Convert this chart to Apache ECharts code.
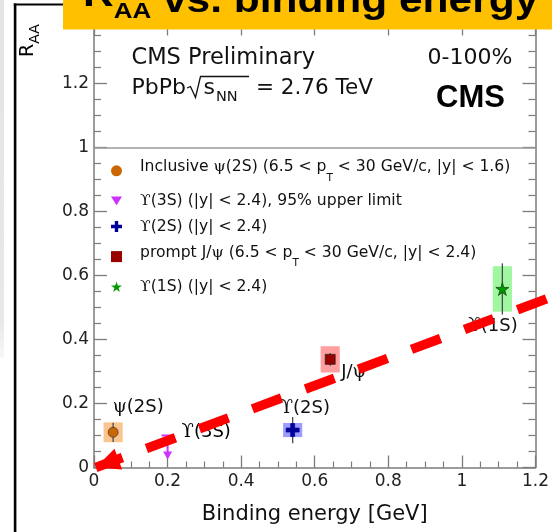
<!DOCTYPE html>
<html><head><meta charset="utf-8">
<script src="https://cdn.jsdelivr.net/npm/echarts@6/dist/echarts.min.js"></script>
<style>html,body{margin:0;padding:0;background:#fff}#c{width:552px;height:532px}</style>
</head><body><div id="c"></div>
<script>
// ---------------- data ----------------
const xTickLabels = ['0', '0.2', '0.4', '0.6', '0.8', '1', '1.2'];
const yTickLabels = ['0', '0.2', '0.4', '0.6', '0.8', '1', '1.2'];
const states = ['ψ(2S)', 'ϒ(3S)', 'ϒ(2S)', 'J/ψ', 'ϒ(1S)'];
const bindingEnergy = [0.052, 0.20, 0.54, 0.642, 1.11];   // GeV
const raa = [0.110, 0.100, 0.117, 0.338, 0.558];           // ϒ(3S): 95% upper limit
const statErr = [0.030, 0, 0.041, 0.020, 0.080];
const systErr = [0.031, 0, 0.022, 0.041, 0.071];
const isUpperLimit = [false, true, false, false, false];
const pointLabels = ['ψ(2S)', 'ϒ(3S)', 'ϒ(2S)', 'J/ψ', 'ϒ(1S)'];
const legendLabels = [
  'Inclusive ψ(2S) (6.5 < p_{T} < 30 GeV/c, |y| < 1.6)',
  'ϒ(3S) (|y| < 2.4), 95% upper limit',
  'ϒ(2S) (|y| < 2.4)',
  'prompt J/ψ (6.5 < p_{T} < 30 GeV/c, |y| < 2.4)',
  'ϒ(1S) (|y| < 2.4)'
];
const referenceLine = 1;
const arrowFrom = [1.26, 0.54];   // red slide arrow, data coords
const arrowTo = [0.005, 0.0];

// ---------------- style ----------------
const SANS = 'DejaVu Sans', SERIF = 'DejaVu Serif, DejaVu Sans';
const INK = '#111', AX = '#7c7c7c';
const BOX_HALF = 0.026;
const STAR = 'path://M50,0L61,35L98,35L68,57L79,91L50,70L21,91L32,57L2,35L39,35Z';
const CROSS = 'path://M4.5,0H8.5V4.5H13V8.5H8.5V13H4.5V8.5H0V4.5H4.5Z';
const TRI_DOWN = 'path://M0,0L10,0L5,8Z';
const markerSymbols = ['circle', TRI_DOWN, CROSS, 'rect', STAR];
const markerSizes = [10, 10, 13, 10, 13];
const markerColors = ['#cc6600', '#cc33ff', '#000099', '#990000', '#009900'];
const markerBorders = ['#333', '#cc33ff', '#000099', '#222', '#0a3a0a'];
const boxColors = ['#fbc590', null, '#9c9cff', '#ff9f9f', '#9ff79f'];
const labelOffsets = [[-0.5, -24.7], [14, -3.5], [-12, -22], [11, 12.7], [-34, 37.7]];

function toRich(s, base, greek, sub) {
  let r = s.replace(/_\{([^}]*)\}/g, (m, a) => `}{${sub}|${a}}{${base}|`);
  r = r.replace(/[ψϒ]/g, m => `}{${greek}|${m}}{${base}|`);
  return `{${base}|${r}}`;
}

const pointRich = {
  p: { fontFamily: SANS, fontSize: 18, color: INK, lineHeight: 22 },
  pg: { fontFamily: SERIF, fontSize: 18, color: INK, lineHeight: 22 }
};
const LF = 15.6;
const legendRich = {
  sp: { width: 13 },
  t: { fontFamily: SANS, fontSize: LF, color: INK, lineHeight: 20 },
  g: { fontFamily: SERIF, fontSize: LF, color: INK, lineHeight: 20 },
  tu: { fontFamily: SANS, fontSize: LF, color: INK, lineHeight: 20, padding: [0, 0, 8, 0] },
  gu: { fontFamily: SERIF, fontSize: LF, color: INK, lineHeight: 20, padding: [0, 0, 8, 0] },
  s: { fontFamily: SANS, fontSize: 10.5, color: INK, lineHeight: 20, padding: [14, 0, 0, 0] }
};

const chart = echarts.init(document.getElementById('c'), null, { renderer: 'canvas', width: 552, height: 532 });

const series = [];
states.forEach((name, i) => {
  if (isUpperLimit[i]) return;
  series.push({
    type: 'scatter', name, z: 4,
    symbol: markerSymbols[i], symbolSize: markerSizes[i],
    itemStyle: { color: markerColors[i], borderColor: markerBorders[i], borderWidth: 0.7, opacity: 1 },
    label: {
      show: true, position: 'inside', offset: labelOffsets[i], align: 'left', verticalAlign: 'middle',
      formatter: toRich(pointLabels[i], 'p', 'pg', 'p'), rich: pointRich
    },
    emphasis: { disabled: true },
    data: [[bindingEnergy[i], raa[i]]],
    markLine: i === 0 ? {
      silent: true, symbol: 'none', label: { show: false }, animation: false,
      lineStyle: { color: '#9a9a9a', type: 'solid', width: 1.5 },
      data: [{ yAxis: referenceLine }]
    } : undefined
  });
});

// systematic boxes + statistical error bars
series.push({
  type: 'custom', name: 'syst', z: 2, silent: true,
  data: states.map((s, i) => i).filter(i => !isUpperLimit[i])
    .map(i => [bindingEnergy[i], raa[i], statErr[i], systErr[i], i]),
  renderItem(params, api) {
    const x = api.value(0), y = api.value(1), st = api.value(2), sy = api.value(3), k = api.value(4);
    const tl = api.coord([x - BOX_HALF, y + sy]), br = api.coord([x + BOX_HALF, y - sy]);
    const et = api.coord([x, y + st]), eb = api.coord([x, y - st]);
    return { type: 'group', children: [
      { type: 'rect', z2: 1, shape: { x: tl[0], y: tl[1], width: br[0] - tl[0], height: br[1] - tl[1] }, style: { fill: boxColors[k] } },
      { type: 'line', z2: 2, shape: { x1: et[0], y1: et[1], x2: eb[0], y2: eb[1] }, style: { stroke: '#4a4a4a', lineWidth: 1.3 } }
    ] };
  }
});

// upper limit arrow
states.forEach((name, i) => {
  if (!isUpperLimit[i]) return;
  series.push({
    type: 'custom', name, z: 3, silent: true,
    itemStyle: { color: markerColors[i] },
    data: [[bindingEnergy[i], raa[i], i]],
    renderItem(params, api) {
      const p = api.coord([api.value(0), api.value(1)]);
      const c = markerColors[i];
      return { type: 'group', children: [
        { type: 'line', shape: { x1: p[0] - 6, y1: p[1], x2: p[0] + 6, y2: p[1] }, style: { stroke: c, lineWidth: 2 } },
        { type: 'line', shape: { x1: p[0], y1: p[1], x2: p[0], y2: p[1] + 18 }, style: { stroke: c, lineWidth: 2 } },
        { type: 'polygon', shape: { points: [[p[0] - 4.5, p[1] + 16], [p[0] + 4.5, p[1] + 16], [p[0], p[1] + 24]] }, style: { fill: c } },
        { type: 'text', x: p[0] + labelOffsets[i][0], y: p[1] + labelOffsets[i][1],
          style: { text: toRich(pointLabels[i], 'p', 'pg', 'p'), rich: pointRich, align: 'left', verticalAlign: 'middle' } }
      ] };
    }
  });
});

const axisCommon = {
  type: 'value', splitLine: { show: false },
  axisLine: { show: true, onZero: false, lineStyle: { color: AX, width: 1.5 } },
};

chart.setOption({
  animation: false,
  backgroundColor: '#ffffff',
  grid: { left: 94, right: 14, top: 19.5, bottom: 64.5, containLabel: false },
  xAxis: [
    Object.assign({}, axisCommon, {
      position: 'bottom', min: 0, max: 1.2, interval: 0.2,
      axisTick: { inside: true, length: 12, lineStyle: { color: AX, width: 1.3 } },
      minorTick: { show: true, splitNumber: 4, length: 6, lineStyle: { color: AX, width: 1.2 } },
      axisLabel: { margin: 6, fontFamily: SANS, fontSize: 17, color: '#222',
        formatter: v => xTickLabels[Math.round(v / 0.2)] || '' },
      name: 'Binding energy [GeV]', nameLocation: 'middle', nameGap: 37,
      nameTextStyle: { fontFamily: SANS, fontSize: 21, color: INK }
    }),
    Object.assign({}, axisCommon, {
      position: 'top', min: 0, max: 1.2, interval: 0.2,
      axisTick: { inside: true, length: 16, lineStyle: { color: AX, width: 1.3 } },
      axisLabel: { show: false }
    })
  ],
  yAxis: [
    Object.assign({}, axisCommon, {
      position: 'left', min: 0, max: 1.4, interval: 0.2,
      axisTick: { inside: true, length: 13, lineStyle: { color: AX, width: 1.3 } },
      minorTick: { show: true, splitNumber: 4, length: 7, lineStyle: { color: AX, width: 1.2 } },
      axisLabel: { margin: 5, fontFamily: SANS, fontSize: 17, color: '#222', showMaxLabel: false,
        formatter: v => yTickLabels[Math.round(v / 0.2)] || '' }
    }),
    Object.assign({}, axisCommon, {
      position: 'right', min: 0, max: 1.4, interval: 0.2,
      axisTick: { inside: true, length: 13, lineStyle: { color: AX, width: 1.3 } },
      minorTick: { show: true, splitNumber: 4, length: 7, lineStyle: { color: AX, width: 1.2 } },
      axisLabel: { show: false }
    })
  ],
  legend: {
    orient: 'vertical', left: 111, top: 158.3, itemGap: 9.6, itemWidth: 11, itemHeight: 11,
    padding: 0, selectedMode: false, align: 'left',
    data: states.map((name, i) => ({ name, icon: markerSymbols[i], itemStyle: { color: markerColors[i], borderWidth: 0 } })),
    formatter: name => {
      const s = legendLabels[states.indexOf(name)];
      const hasSub = /_\{/.test(s);
      return '{sp|}' + toRich(s, hasSub ? 'tu' : 't', hasSub ? 'gu' : 'g', 's');
    },
    textStyle: { rich: legendRich }
  },
  series
});

// ---------- slide / text overlays ----------
const tip = chart.convertToPixel({ gridIndex: 0 }, arrowTo);
const far = chart.convertToPixel({ gridIndex: 0 }, arrowFrom);
const dx = far[0] - tip[0], dy = far[1] - tip[1], L = Math.hypot(dx, dy);
const ux = dx / L, uy = dy / L, nx = -uy, ny = ux;
const HEAD_L = 24, HEAD_W = 11;
const base = [tip[0] + HEAD_L * ux, tip[1] + HEAD_L * uy];

chart.setOption({
  graphic: [
    // slide gray strip and black frame
    { type: 'rect', z: 90, shape: { x: 0, y: 0, width: 4, height: 358 },
      style: { fill: new echarts.graphic.LinearGradient(0, 0, 0, 1, [{ offset: 0, color: '#e4e4e4' }, { offset: 0.9, color: '#e8e8e8' }, { offset: 1, color: '#f8f8f8' }]) } },
    { type: 'rect', z: 90, shape: { x: 13.8, y: 3.5, width: 2.6, height: 529 }, style: { fill: '#000' } },
    { type: 'rect', z: 90, shape: { x: 13.8, y: 3.5, width: 50, height: 2 }, style: { fill: '#000' } },
    // red dashed arrow
    { type: 'line', z: 95, shape: { x1: tip[0], y1: tip[1], x2: far[0], y2: far[1] },
      style: { stroke: '#ff0000', lineWidth: 9.5, lineDash: [31, 25.6], lineDashOffset: 2.6, lineCap: 'butt' } },
    { type: 'polygon', z: 95, shape: { points: [tip, [base[0] + HEAD_W * nx, base[1] + HEAD_W * ny], [base[0] - HEAD_W * nx, base[1] - HEAD_W * ny]] },
      style: { fill: '#ff0000' } },
    // banner
    { type: 'rect', z: 100, shape: { x: 63, y: 0, width: 489, height: 29.5 }, style: { fill: '#ffc000' } },
    { type: 'text', z: 101, x: 83, y: 2.5, scaleX: 1.18, scaleY: 1,
      style: { text: '{r|R}{s|AA}{m| vs. binding energy}', align: 'left', verticalAlign: 'middle',
        rich: {
          r: { fontFamily: 'Liberation Sans', fontWeight: 'bold', fontSize: 36, color: '#000', lineHeight: 40, padding: [0, 0, 12, 0] },
          s: { fontFamily: 'Liberation Sans', fontWeight: 'bold', fontSize: 22, color: '#000', lineHeight: 40, padding: [19, 0, 0, 0] },
          m: { fontFamily: 'Liberation Sans', fontWeight: 'bold', fontSize: 36, color: '#000', lineHeight: 40 }
        } } },
    // y axis title
    { type: 'text', z: 80, x: 28.4, y: 57, rotation: Math.PI / 2,
      style: { text: '{r|R}{s|AA}', align: 'left', verticalAlign: 'middle',
        rich: {
          r: { fontFamily: SANS, fontSize: 19, color: INK, lineHeight: 22 },
          s: { fontFamily: SANS, fontSize: 14, color: INK, lineHeight: 22, padding: [14.6, 0, 0, 0] }
        } } },
    // annotations
    { type: 'text', z: 80, x: 131.5, y: 58, style: { text: 'CMS Preliminary', fontFamily: SANS, fontSize: 22.5, fill: INK, align: 'left', verticalAlign: 'middle' } },
    { type: 'text', z: 80, x: 131.5, y: 88.3, style: { text: 'PbPb', fontFamily: SANS, fontSize: 22, fill: INK, align: 'left', verticalAlign: 'middle' } },
    { type: 'polyline', z: 80, shape: { points: [[187, 88], [190.5, 86.5], [195.5, 97.5], [200.5, 76.5], [249, 76.5]] }, style: { stroke: INK, lineWidth: 1.3, fill: null } },
    { type: 'text', z: 80, x: 203.5, y: 88.3, style: { text: 's', fontFamily: SANS, fontSize: 22, fill: INK, align: 'left', verticalAlign: 'middle' } },
    { type: 'text', z: 80, x: 216, y: 97, style: { text: 'NN', fontFamily: SANS, fontSize: 14.5, fill: INK, align: 'left', verticalAlign: 'middle' } },
    { type: 'text', z: 80, x: 256, y: 88.3, style: { text: '= 2.76 TeV', fontFamily: SANS, fontSize: 21.5, fill: INK, align: 'left', verticalAlign: 'middle' } },
    { type: 'text', z: 80, x: 427.5, y: 58, style: { text: '0-100%', fontFamily: SANS, fontSize: 22, fill: INK, align: 'left', verticalAlign: 'middle' } },
    { type: 'text', z: 80, x: 436, y: 98.5, style: { text: 'CMS', fontFamily: 'Liberation Sans', fontWeight: 'bold', fontSize: 31, fill: '#000', align: 'left', verticalAlign: 'middle' } }
  ]
});
</script></body></html>
